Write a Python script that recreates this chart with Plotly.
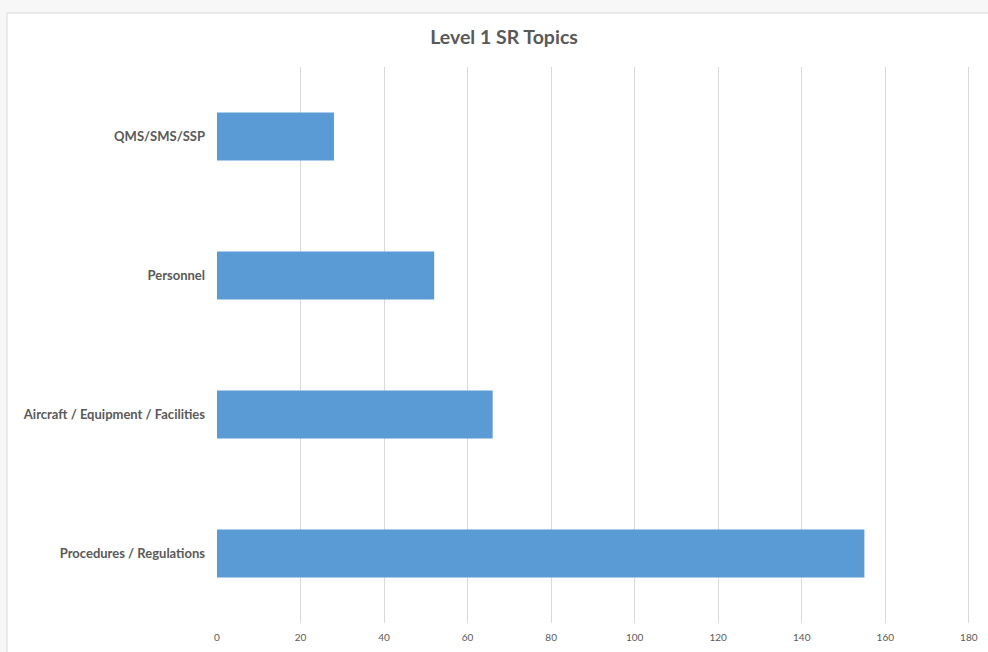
import plotly.graph_objects as go

# Level 1 SR topic counts, listed top to bottom
categories = ["QMS/SMS/SSP", "Personnel", "Aircraft / Equipment / Facilities", "Procedures / Regulations"]
counts = [28, 52, 66, 155]
x_ticks = [0, 20, 40, 60, 80, 100, 120, 140, 160, 180]
x_max = 181  # a little headroom so the 180 gridline is drawn

W, H = 988, 652
L, T, B = 217, 67, 29
pw = round(752 * x_max / 180)
R = W - L - pw
ph = H - T - B

def px_x(p):
    return (p - L) / pw

def px_y(p):
    return (H - B - p) / ph

fig = go.Figure(
    go.Bar(
        x=counts,
        y=categories,
        orientation="h",
        marker=dict(color="#5b9bd5", line=dict(width=0)),
        hoverinfo="x+y",
    )
)

fig.update_layout(
    width=W,
    height=H,
    margin=dict(l=L, r=R, t=T, b=B, autoexpand=False),
    paper_bgcolor="white",
    plot_bgcolor="white",
    bargap=0.655,
    showlegend=False,
    font=dict(family="Lato, 'Open Sans', sans-serif", color="#595959"),
    title=dict(
        text="<b>Level 1 SR Topics</b>",
        x=504 / W,
        xanchor="center",
        y=1 - 37 / H,
        yanchor="middle",
        font=dict(size=19.5, color="#595959", family="Lato, 'Open Sans', sans-serif"),
    ),
    xaxis=dict(
        range=[0, x_max],
        tickvals=x_ticks,
        showgrid=True,
        gridcolor="#d9d9d9",
        gridwidth=1,
        zeroline=False,
        showline=False,
        ticks="",
        tickfont=dict(size=10, color="#595959"),
        ticklabelstandoff=7,
        automargin=False,
        fixedrange=True,
    ),
    yaxis=dict(
        autorange="reversed",
        showgrid=False,
        zeroline=False,
        showline=False,
        ticks="",
        tickfont=dict(size=13, color="#595959", weight="bold"),
        ticklabelstandoff=11,
        automargin=False,
    ),
    shapes=[
        # outer light band around the chart frame
        dict(type="rect", xref="paper", yref="paper",
             x0=px_x(-5), x1=px_x(W + 5), y0=px_y(H + 5), y1=px_y(-5),
             fillcolor="#f7f7f7", line=dict(width=0), layer="below"),
        # chart frame
        dict(type="rect", xref="paper", yref="paper",
             x0=px_x(7), x1=px_x(W + 10), y0=px_y(H + 10), y1=px_y(13),
             fillcolor="white", line=dict(color="#d9d9d9", width=1), layer="below"),
    ],
)

fig.write_html("out.html")
